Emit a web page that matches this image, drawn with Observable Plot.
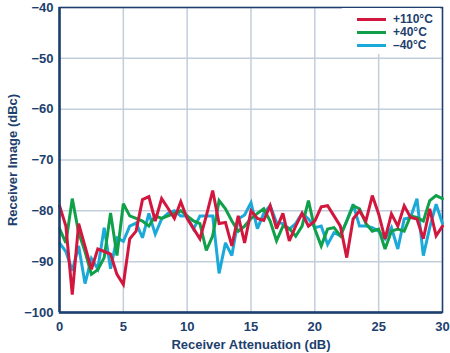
<!DOCTYPE html>
<html>
<head>
<meta charset="utf-8">
<script src="https://cdn.jsdelivr.net/npm/d3@7"></script>
<script src="https://cdn.jsdelivr.net/npm/@observablehq/plot@0.6"></script>
<style>
  body { margin: 0; background: #fff; }
  #wrap { position: relative; width: 450px; height: 353px; font-family: "Liberation Sans", Arial, sans-serif; }
  #legend { position: absolute; left: 342px; top: 8px; width: 98px; height: 46px; background: #fff; font-weight: bold; font-size: 12px; line-height: 12px; color: #1d3f6e; }
  #legend .row { position: absolute; left: 0; height: 12px; line-height: 12px; display: flex; align-items: center; }
  #legend .sw { width: 29px; height: 3px; margin-left: 15px; margin-right: 7px; }
</style>
</head>
<body>
<div id="wrap"><div id="chart"></div><div id="legend"></div></div>
<script>
const attenuation = d3.range(0, 30.5, 0.5);
const seriesNames = ["+110°C", "+40°C", "\u201340°C"];
const seriesColors = ["#d2173f", "#10a049", "#1aa9d9"];
const red110 = [-79,-83,-96.5,-82.5,-87,-91.5,-87.5,-88,-88.5,-92.5,-94.5,-85.5,-84,-77.8,-77.2,-82,-77.6,-79.5,-81.5,-78.2,
  -81.5,-83.5,-85.5,-81,-76,-82.5,-82.3,-86.9,-81,-86.3,-80,-81.5,-81.9,-79,-83.5,-80.5,-85.9,-83,-80.5,-83,
  -82,-79.2,-79,-81,-83,-89.2,-81.6,-80,-82,-77,-80.6,-85.5,-80.6,-83,-79,-81.3,-81.6,-85.5,-79.6,-84.9,-83];
const green40 = [-83.5,-86.3,-77.6,-84.3,-88,-92.5,-91.6,-89.2,-80.4,-88.8,-78.6,-81,-81.5,-82,-83,-81,-81.5,-81,-80.5,-80,
  -81,-82,-82.5,-87.8,-84.9,-78,-79.6,-82,-84,-83,-81.5,-80.5,-79.6,-82,-85.9,-83,-83.5,-85,-83,-78,
  -83.6,-86.9,-83.6,-83.3,-84.9,-82,-79,-79.6,-82.5,-84,-83.6,-87.5,-84,-83.6,-84,-81,-81.3,-82,-78,-77,-77.6];
const blueM40 = [-86.3,-88,-91.8,-86.9,-94.3,-89.4,-91.4,-83.3,-91.4,-85.3,-86,-83,-82.4,-85.3,-80.5,-84.6,-81.6,-80.5,-80,-81,
  -81,-83.6,-81,-81,-81,-92.3,-86.3,-88.8,-81.6,-80.8,-78.4,-83.5,-80.5,-79,-82.3,-82.5,-83.6,-82.5,-80.5,-81.6,
  -83.3,-83,-86.6,-84.3,-84.9,-82,-78.7,-83,-83,-83.3,-84,-85.5,-83.3,-87.5,-81.6,-81.3,-77.6,-88.8,-83.3,-78.7,-82.5];
const xTicks = [0, 5, 10, 15, 20, 25, 30];
const yTicks = [-100, -90, -80, -70, -60, -50, -40];

const seriesValues = [red110, green40, blueM40];
const rows = [];
seriesValues.forEach((vals, s) => vals.forEach((v, i) => rows.push({x: attenuation[i], y: v, s: seriesNames[s]})));
const drawOrder = [2, 1, 0];

const navy = "#1d3f6e";
const grid = "#c3cedb";

const chart = Plot.plot({
  width: 450, height: 353,
  marginLeft: 59, marginRight: 8, marginTop: 7, marginBottom: 41,
  style: { fontFamily: "'Liberation Sans', Arial, sans-serif", fontWeight: "bold", fontSize: "13px", color: navy, background: "transparent" },
  x: { domain: [0, 30], ticks: xTicks, label: null },
  y: { domain: [-100, -40], ticks: yTicks, label: null },
  color: { domain: seriesNames, range: seriesColors },
  marks: [
    Plot.gridX(xTicks, { stroke: grid, strokeOpacity: 1, strokeWidth: 1.5 }),
    Plot.gridY(yTicks, { stroke: grid, strokeOpacity: 1, strokeWidth: 1.5 }),
    Plot.frame({ stroke: navy, strokeWidth: 1.5 }),
    Plot.axisX({ ticks: xTicks, tickSize: 0, tickPadding: 9, fontSize: 13, fontWeight: "bold", fill: navy, label: "Receiver Attenuation (dB)", labelAnchor: "center", labelOffset: 36, labelArrow: "none" }),
    Plot.axisY({ ticks: yTicks, tickSize: 0, tickPadding: 6, fontSize: 13, fontWeight: "bold", fill: navy, label: "Receiver Image (dBc)", labelAnchor: "center", labelOffset: 52, labelArrow: "none" }),
    ...drawOrder.map(s => Plot.line(rows.filter(r => r.s === seriesNames[s]), { x: "x", y: "y", stroke: seriesColors[s], strokeWidth: 3, strokeLinejoin: "miter", strokeMiterlimit: 3 })),
    Plot.ruleX([0], { stroke: navy, strokeWidth: 2.5 }),
    Plot.ruleY([-100], { stroke: navy, strokeWidth: 2.5 })
  ]
});
document.getElementById("chart").appendChild(chart);

const legend = document.getElementById("legend");
seriesNames.forEach((n, i) => {
  const row = document.createElement("div");
  row.className = "row";
  row.style.top = (5 + i * 13) + "px";
  row.innerHTML = `<span class="sw" style="background:${seriesColors[i]}"></span><span>${n}</span>`;
  legend.appendChild(row);
});
</script>
</body>
</html>
